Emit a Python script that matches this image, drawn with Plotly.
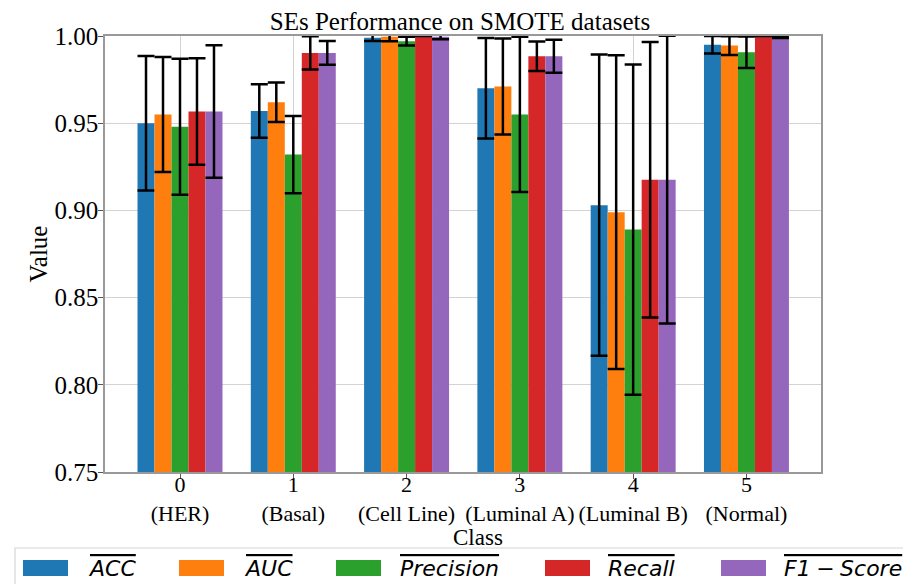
import plotly.graph_objects as go

# Classes (x positions 0..5) and their two-line tick labels
class_ids = [0, 1, 2, 3, 4, 5]
class_names = ["(HER)", "(Basal)", "(Cell Line)", "(Luminal A)", "(Luminal B)", "(Normal)"]

# Mean metric values per class
acc = [0.950, 0.957, 0.999, 0.970, 0.903, 0.995]
auc = [0.955, 0.962, 0.9995, 0.971, 0.899, 0.9945]
precision = [0.948, 0.932, 0.997, 0.955, 0.889, 0.9907]
recall = [0.9567, 0.9903, 1.000, 0.9884, 0.9176, 1.000]
f1 = [0.9567, 0.9903, 0.9995, 0.9884, 0.9176, 0.9995]

# Standard deviations (error bars)
acc_std = [0.0386, 0.0153, 0.0019, 0.0288, 0.0864, 0.0050]
auc_std = [0.0330, 0.0113, 0.0025, 0.0275, 0.0900, 0.0054]
precision_std = [0.0390, 0.0222, 0.0025, 0.0445, 0.0947, 0.0090]
recall_std = [0.0305, 0.0095, 0.0000, 0.0085, 0.0790, 0.0000]
f1_std = [0.0380, 0.0068, 0.0014, 0.0095, 0.0825, 0.0006]

metric_labels = ["ACC", "AUC", "Precision", "Recall", "F1\u2005\u2212\u2005Score"]
metric_colors = ["#1f77b4", "#ff7f0e", "#2ca02c", "#d62728", "#9467bd"]
metric_values = [acc, auc, precision, recall, f1]
metric_stds = [acc_std, auc_std, precision_std, recall_std, f1_std]

W, H = 903, 584
L, R, T, B = 105, 82, 36, 112
PW, PH = W - L - R, H - T - B


def px_x(px):
    return (px - L) / PW


def px_y(py):
    return (H - B - py) / PH


serif = "Liberation Serif"

fig = go.Figure()
for name, color, vals, errs in zip(metric_labels, metric_colors, metric_values, metric_stds):
    fig.add_trace(go.Bar(
        x=class_ids, y=vals, name=name,
        marker=dict(color=color, line=dict(width=0)),
        error_y=dict(type="data", array=errs, visible=True,
                     color="black", thickness=2.5, width=8.5),
        showlegend=False,
    ))

# Legend drawn as a boxed row beneath the axes
legend_patch_x = [23, 179, 336, 545, 721]
legend_text_x = [86, 242, 398, 606, 782]
shapes = [dict(type="rect", xref="paper", yref="paper",
               x0=px_x(15), x1=px_x(910), y0=px_y(548), y1=px_y(600),
               line=dict(color="#d6d6d6", width=1.2), fillcolor="rgba(255,255,255,0)",
               layer="above")]
annotations = []
for lbl, col, x0p, xt in zip(metric_labels, metric_colors, legend_patch_x, legend_text_x):
    shapes.append(dict(type="rect", xref="paper", yref="paper",
                       x0=px_x(x0p), x1=px_x(x0p + 45), y0=px_y(576), y1=px_y(560),
                       line=dict(width=0), fillcolor=col, layer="above"))
    annotations.append(dict(
        xref="paper", yref="paper", x=px_x(xt), y=px_y(568),
        xanchor="left", yanchor="middle", showarrow=False,
        text=f'<i><span style="text-decoration:overline">{lbl}</span></i>',
        font=dict(family="DejaVu Sans", size=22, color="black"),
    ))

annotations.append(dict(
    xref="paper", yref="paper", x=px_x(478), y=px_y(537),
    xanchor="center", yanchor="middle", showarrow=False,
    text="Class", font=dict(family=serif, size=23, color="black"),
))

fig.update_layout(
    width=W, height=H,
    margin=dict(l=L, r=R, t=T, b=B, pad=0, autoexpand=False),
    paper_bgcolor="white", plot_bgcolor="white",
    barmode="group", bargap=0.25, bargroupgap=0,
    title=dict(text="SEs Performance on SMOTE datasets",
               x=460 / W, xref="container", xanchor="center",
               y=1 - 21 / H, yref="container", yanchor="middle",
               font=dict(family=serif, size=25, color="black")),
    font=dict(family=serif, size=22, color="black"),
    shapes=shapes, annotations=annotations,
    showlegend=False,
)

fig.update_xaxes(
    range=[-0.662, 5.658],
    tickmode="array", tickvals=class_ids,
    ticktext=[f"{i}<br>{n}" for i, n in zip(class_ids, class_names)],
    tickangle=0, automargin=False,
    ticks="outside", ticklen=5, tickcolor="#555", tickwidth=1,
    ticklabelstandoff=-13,
    showgrid=True, gridcolor="#d3d3d3", gridwidth=1,
    showline=True, linecolor="#999", linewidth=1.5, mirror=True,
    tickfont=dict(family=serif, size=22, color="black"),
    zeroline=False,
)
fig.update_yaxes(
    range=[0.75, 1.0],
    tickmode="array", tickvals=[0.75, 0.80, 0.85, 0.90, 0.95, 1.00],
    tickformat=".2f", automargin=False,
    ticks="outside", ticklen=5, tickcolor="#555", tickwidth=1,
    ticklabelstandoff=-5,
    showgrid=True, gridcolor="#d3d3d3", gridwidth=1,
    showline=True, linecolor="#999", linewidth=1.5, mirror=True,
    tickfont=dict(family=serif, size=25, color="black"),
    title=dict(text="Value", font=dict(family=serif, size=25, color="black"), standoff=0),
    zeroline=False,
)

fig.write_html("out.html")
